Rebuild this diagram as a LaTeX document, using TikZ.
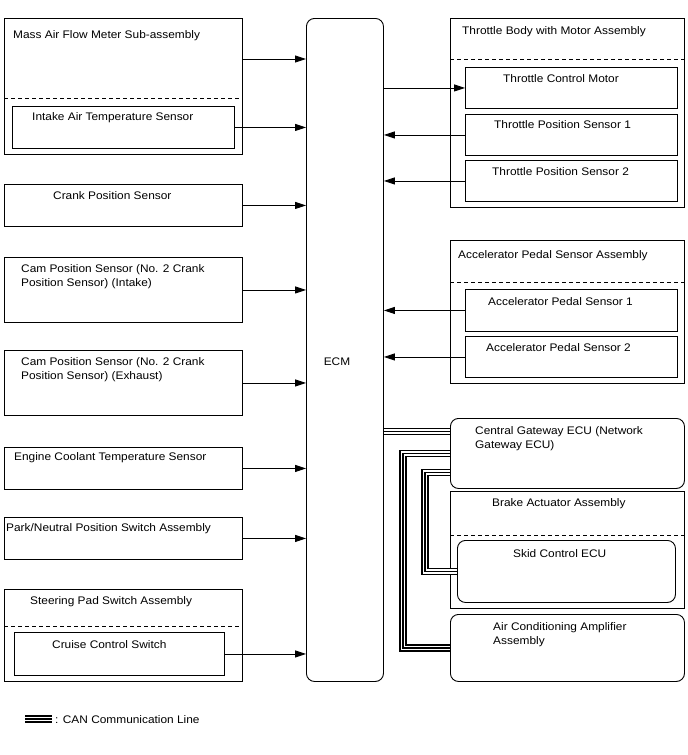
\documentclass[tikz,border=0pt]{standalone}
\usepackage{fontspec}
\setmainfont[FakeStretch=1.08]{Liberation Sans}
\usetikzlibrary{arrows.meta,positioning,calc}

\begin{document}
\begin{tikzpicture}[
      x=1pt, y=-1pt,
      every node/.style={font=\fontsize{11pt}{14pt}\selectfont},
      box/.style={draw=black, fill=white, line width=0.9pt, anchor=north west, inner sep=0pt},
      rbox/.style={box, rounded corners=8pt},
      txt/.style={anchor=base west, inner sep=0pt},
      sepline/.style={line width=0.8pt, dash pattern=on 4pt off 3pt},
      arr/.style={-{Triangle[length=11pt,width=7pt]}, line width=0.9pt},
      can/.style={line width=1.6pt, preaction={draw=black, line width=7.4pt}, preaction={draw=white, line width=4.4pt}}
  ]
      \useasboundingbox (0,0) rectangle (688,755);

      % ECM
      \node[rbox, minimum width=77pt, minimum height=663pt] (ecm) at (306,18) {};
      \node (ecmT) at (337,362) {ECM};

      % LEFT COLUMN
      \node[box, minimum width=238pt, minimum height=136pt] (maf) at (4,18) {};
      \node[txt] (mafT) at (13,38) {Mass Air Flow Meter Sub-assembly};
      \draw[sepline] ([yshift=-80pt]maf.north west) -- ([yshift=-80pt]maf.north east);
      \node[box, minimum width=222pt, minimum height=42pt] (iat) at (12,106) {};
      \node[txt] (iatT) at (32,120) {Intake Air Temperature Sensor};

      \node[box, minimum width=238pt, minimum height=42pt] (crank) at (4,184) {};
      \node[txt] (crankT) at (53,199) {Crank Position Sensor};

      \node[box, minimum width=238pt, minimum height=65pt] (camin) at (4,257) {};
      \node[txt, align=left] (caminT) at (21,286) {Cam Position Sensor (No. 2 Crank\\Position Sensor) (Intake)};

      \node[box, minimum width=238pt, minimum height=65pt] (camex) at (4,350) {};
      \node[txt, align=left] (camexT) at (21,379) {Cam Position Sensor (No. 2 Crank\\Position Sensor) (Exhaust)};

      \node[box, minimum width=238pt, minimum height=42pt] (ect) at (4,447) {};
      \node[txt] (ectT) at (14,460) {Engine Coolant Temperature Sensor};

      \node[box, minimum width=238pt, minimum height=42pt] (pnp) at (4,517) {};
      \node[txt] (pnpT) at (6,531) {Park/Neutral Position Switch Assembly};

      \node[box, minimum width=238pt, minimum height=92pt] (spd) at (4,589) {};
      \node[txt] (spdT) at (30,604) {Steering Pad Switch Assembly};
      \draw[sepline] ([yshift=-37pt]spd.north west) -- ([yshift=-37pt]spd.north east);
      \node[box, minimum width=210pt, minimum height=43pt] (ccs) at (14,632) {};
      \node[txt] (ccsT) at (52,648) {Cruise Control Switch};

      \coordinate (mafout) at ([yshift=-41pt]maf.north east);
      \draw[arr] (mafout) -- (mafout -| ecm.west);
      \foreach \n in {iat,crank,camin,camex,ect,pnp,ccs}
        \draw[arr] (\n.east) -- (\n.east -| ecm.west);

      % RIGHT COLUMN
      \node[box, minimum width=234pt, minimum height=189pt] (tb) at (450,18) {};
      \node[txt] (tbT) at (462,34) {Throttle Body with Motor Assembly};
      \draw[sepline] ([yshift=-41pt]tb.north west) -- ([yshift=-41pt]tb.north east);
      \node[box, minimum width=212pt, minimum height=41pt] (tcm) at (465,67) {};
      \node[txt] (tcmT) at (503,82) {Throttle Control Motor};
      \node[box, minimum width=212pt, minimum height=41pt] (tps1) at (465,114) {};
      \node[txt] (tps1T) at (494,128) {Throttle Position Sensor 1};
      \node[box, minimum width=212pt, minimum height=41pt] (tps2) at (465,160) {};
      \node[txt] (tps2T) at (492,175) {Throttle Position Sensor 2};

      \node[box, minimum width=234pt, minimum height=143pt] (aps) at (450,240) {};
      \node[txt] (apsT) at (458,258) {Accelerator Pedal Sensor Assembly};
      \draw[sepline] ([yshift=-42pt]aps.north west) -- ([yshift=-42pt]aps.north east);
      \node[box, minimum width=212pt, minimum height=42pt] (aps1) at (465,289) {};
      \node[txt] (aps1T) at (488,305) {Accelerator Pedal Sensor 1};
      \node[box, minimum width=212pt, minimum height=41pt] (aps2) at (465,336) {};
      \node[txt] (aps2T) at (486,351) {Accelerator Pedal Sensor 2};

      \draw[arr] (ecm.east |- tcm.west) -- (tcm.west);
      \foreach \n in {tps1,tps2,aps1,aps2}
        \draw[arr] (\n.west) -- (\n.west -| ecm.east);

      % CAN
      \node[rbox, minimum width=234pt, minimum height=70pt] (gw) at (450,418) {};
      \node[txt, align=left] (gwT) at (475,448) {Central Gateway ECU (Network\\Gateway ECU)};

      \node[box, minimum width=234pt, minimum height=117pt] (brk) at (450,491) {};
      \node[txt] (brkT) at (492,506) {Brake Actuator Assembly};
      \draw[sepline] ([yshift=-44pt]brk.north west) -- ([yshift=-44pt]brk.north east);
      \node[rbox, minimum width=218pt, minimum height=62pt] (skid) at (457,540) {};
      \node[txt] (skidT) at (513,557) {Skid Control ECU};

      \node[rbox, minimum width=234pt, minimum height=67pt] (ac) at (450,614) {};
      \node[txt, align=left] (acT) at (493,644) {Air Conditioning Amplifier\\Assembly};

      \coordinate (gwin) at ([yshift=22pt]gw.west);
      \draw[can] (gwin -| ecm.east) -- (gwin);
      \draw[can] (gw.west) -- ++(-47,0) |- (ac.west);
      \draw[can] ([yshift=-19pt]gw.west) -- ++(-25,0) |- (skid.west);

      % LEGEND
      \coordinate (legA) at (25,719);
      \coordinate (legB) at (52,719);
      \draw[can] (legA) -- (legB);
      \node[txt] (legT) at (55,723) {: CAN Communication Line};
  \end{tikzpicture}
\end{document}
